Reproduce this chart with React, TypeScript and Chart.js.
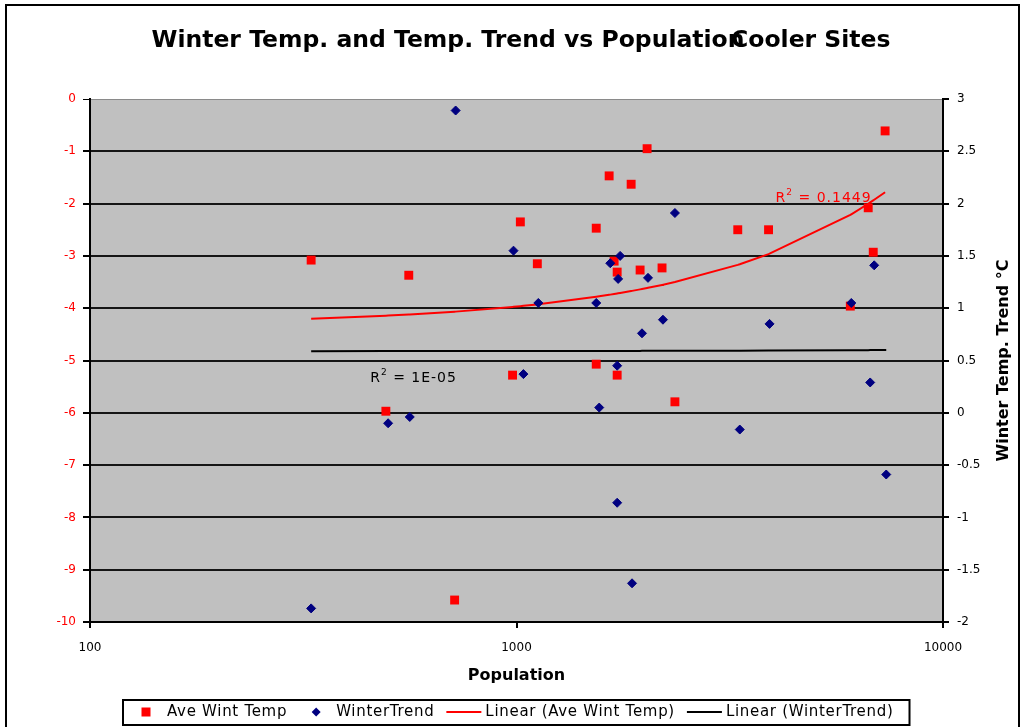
import React, { useEffect, useRef } from 'react';
import { Chart, registerables } from 'chart.js';

Chart.register(...registerables);

// ---- Data ----
const tempPopulation = [330, 559, 494, 716, 979, 1021, 1119, 1538, 1538, 1649, 1694, 1722, 1722, 1857, 2024, 1949, 2194, 2352, 3302, 3899, 6063, 6678, 6862, 7316];
const aveWintTemp = [-3.08, -3.37, -5.97, -9.58, -5.28, -2.35, -3.15, -2.47, -5.07, -1.47, -3.1, -3.31, -5.28, -1.63, -0.95, -3.27, -3.23, -5.79, -2.5, -2.5, -3.96, -2.08, -2.93, -0.61];

const trendPopulation = [720, 984, 1125, 1538, 1659, 1750, 1731, 2034, 2352, 2205, 1969, 3920, 6095, 6897, 1038, 500, 562, 1563, 1722, 330, 1722, 3338, 6750, 7361, 1866];
const winterTrend = [2.89, 1.55, 1.05, 1.05, 1.43, 1.5, 1.28, 1.29, 1.91, 0.89, 0.76, 0.85, 1.05, 1.41, 0.37, -0.1, -0.04, 0.05, 0.45, -1.87, -0.86, -0.16, 0.29, -0.59, -1.63];

const xTicks = [100, 1000, 10000];
const tempAxis = { min: -10, max: 0, step: 1 };
const trendAxis = { min: -2, max: 3, step: 0.5 };

const titleMain = 'Winter Temp. and Temp. Trend vs Population';
const titleTail = 'Cooler Sites';
const xTitle = 'Population';
const y2Title = 'Winter Temp. Trend °C';
const seriesNames = ['Ave Wint Temp', 'WinterTrend', 'Linear (Ave Wint Temp)', 'Linear (WinterTrend)'];
const r2Temp = '0.1449';
const r2Trend = '1E-05';

const RED = '#FF0000';
const NAVY = '#000080';
const FONT = '"DejaVu Sans", Verdana, sans-serif';

function linearFit(xs: number[], ys: number[]) {
  const n = xs.length;
  const mx = xs.reduce((a, b) => a + b, 0) / n;
  const my = ys.reduce((a, b) => a + b, 0) / n;
  let sxy = 0;
  let sxx = 0;
  for (let i = 0; i < n; i++) {
    sxy += (xs[i] - mx) * (ys[i] - my);
    sxx += (xs[i] - mx) * (xs[i] - mx);
  }
  const slope = sxy / sxx;
  return { slope, intercept: my - slope * mx };
}

function trendPoints(xs: number[], ys: number[], sampleXs: number[]) {
  const { slope, intercept } = linearFit(xs, ys);
  const lo = Math.min(...xs);
  const hi = Math.max(...xs);
  return sampleXs.filter((x) => x >= lo && x <= hi).map((x) => ({ x, y: intercept + slope * x }));
}

function setSpacing(ctx: any, px: number) {
  try {
    ctx.letterSpacing = px + 'px';
  } catch (e) {
    /* ignore */
  }
}

function drawR2(ctx: CanvasRenderingContext2D, x: number, y: number, value: string, color: string) {
  ctx.save();
  ctx.fillStyle = color;
  ctx.textAlign = 'left';
  ctx.textBaseline = 'middle';
  setSpacing(ctx, 1);
  ctx.font = `14px ${FONT}`;
  ctx.fillText('R', x, y);
  let cx = x + ctx.measureText('R').width;
  ctx.font = `9px ${FONT}`;
  ctx.fillText('2', cx, y - 6);
  cx += ctx.measureText('2').width;
  ctx.font = `14px ${FONT}`;
  ctx.fillText(' = ' + value, cx, y);
  ctx.restore();
}

const decorPlugin = {
  id: 'decor',
  beforeDraw(chart: any) {
    const { ctx, chartArea: a } = chart;
    ctx.save();
    ctx.fillStyle = '#FFFFFF';
    ctx.fillRect(0, 0, chart.width, chart.height);
    ctx.fillStyle = '#C0C0C0';
    ctx.fillRect(a.left, a.top, a.right - a.left, a.bottom - a.top);
    ctx.restore();
  },
  afterDraw(chart: any) {
    const { ctx, chartArea: a, scales } = chart;
    ctx.save();

    // outer frame
    ctx.strokeStyle = '#000';
    ctx.lineWidth = 2;
    ctx.strokeRect(6, 5, 1013, 760);

    // title (two overlapping pieces, as in the reference)
    ctx.fillStyle = '#000';
    ctx.font = `bold 23.5px ${FONT}`;
    ctx.textBaseline = 'alphabetic';
    ctx.textAlign = 'left';
    const w1 = ctx.measureText(titleMain).width;
    const w2 = ctx.measureText(titleTail).width;
    const overlap = ctx.measureText('n').width * 0.8;
    const total = w1 + w2 - overlap;
    const tx = 521 - total / 2;
    ctx.fillText(titleMain, tx, 47);
    ctx.fillText(titleTail, tx + w1 - overlap, 47);

    // right axis title
    ctx.save();
    ctx.translate(1004, (a.top + a.bottom) / 2);
    ctx.rotate(-Math.PI / 2);
    ctx.font = `bold 16px ${FONT}`;
    ctx.textAlign = 'center';
    ctx.textBaseline = 'middle';
    ctx.fillText(y2Title, 0, 0);
    ctx.restore();

    // R² labels
    drawR2(ctx, scales.x.getPixelForValue(4050), scales.y.getPixelForValue(-1.9), r2Temp, RED);
    drawR2(ctx, scales.x.getPixelForValue(454), scales.y2.getPixelForValue(0.33), r2Trend, '#000');

    // legend
    const ly = 712;
    ctx.save();
    ctx.font = `15px ${FONT}`;
    setSpacing(ctx, 0.7);
    ctx.textBaseline = 'middle';
    ctx.textAlign = 'left';
    let cursor = 0;
    // item 1: red square
    const c1 = 146;
    ctx.fillStyle = RED;
    ctx.fillRect(c1 - 4.5, ly - 4.5, 9, 9);
    ctx.fillStyle = '#000';
    ctx.fillText(seriesNames[0], c1 + 21, ly);
    cursor = c1 + 21 + ctx.measureText(seriesNames[0]).width;
    // item 2: navy diamond
    const c2 = cursor + 29;
    ctx.fillStyle = NAVY;
    ctx.beginPath();
    ctx.moveTo(c2, ly - 4.5);
    ctx.lineTo(c2 + 4.5, ly);
    ctx.lineTo(c2, ly + 4.5);
    ctx.lineTo(c2 - 4.5, ly);
    ctx.closePath();
    ctx.fill();
    ctx.fillStyle = '#000';
    ctx.fillText(seriesNames[1], c2 + 20, ly);
    cursor = c2 + 20 + ctx.measureText(seriesNames[1]).width;
    // items 3 and 4: lines
    const lineItems = [
      { name: seriesNames[2], color: RED },
      { name: seriesNames[3], color: '#000' },
    ];
    for (const it of lineItems) {
      const ls = cursor + 12;
      ctx.strokeStyle = it.color;
      ctx.lineWidth = 2;
      ctx.beginPath();
      ctx.moveTo(ls, ly);
      ctx.lineTo(ls + 35, ly);
      ctx.stroke();
      ctx.fillStyle = '#000';
      ctx.fillText(it.name, ls + 39, ly);
      cursor = ls + 39 + ctx.measureText(it.name).width;
    }
    ctx.strokeStyle = '#000';
    ctx.lineWidth = 2;
    ctx.strokeRect(123, 700, cursor + 16 - 123, 25);
    ctx.restore();

    ctx.restore();
  },
};

export default function App() {
  const canvasRef = useRef<HTMLCanvasElement>(null);

  useEffect(() => {
    const canvas = canvasRef.current;
    if (!canvas) return;

    const sampleXs = Array.from(new Set([...tempPopulation, ...trendPopulation])).sort((p, q) => p - q);
    const redTrend = trendPoints(tempPopulation, aveWintTemp, sampleXs);
    const blackTrend = trendPoints(trendPopulation, winterTrend, sampleXs);

    const tickFont = { family: FONT, size: 12 };

    const chart = new Chart(canvas, {
      type: 'scatter',
      data: {
        datasets: [
          {
            label: seriesNames[0],
            data: tempPopulation.map((x, i) => ({ x, y: aveWintTemp[i] })),
            yAxisID: 'y',
            pointStyle: 'rect',
            pointRadius: 6.3,
            backgroundColor: RED,
            borderColor: RED,
            borderWidth: 0,
            order: 2,
          },
          {
            label: seriesNames[1],
            data: trendPopulation.map((x, i) => ({ x, y: winterTrend[i] })),
            yAxisID: 'y2',
            pointStyle: 'rectRot',
            pointRadius: 4.5,
            backgroundColor: NAVY,
            borderColor: NAVY,
            borderWidth: 1,
            order: 1,
          },
          {
            label: seriesNames[2],
            data: redTrend,
            yAxisID: 'y',
            showLine: true,
            pointRadius: 0,
            borderColor: RED,
            borderWidth: 2,
            order: 4,
          },
          {
            label: seriesNames[3],
            data: blackTrend,
            yAxisID: 'y2',
            showLine: true,
            pointRadius: 0,
            borderColor: '#000',
            borderWidth: 2,
            order: 3,
          },
        ],
      } as any,
      options: {
        animation: false,
        responsive: false,
        events: [],
        layout: { padding: { top: 99, left: 0, right: 0, bottom: 0 } },
        plugins: {
          legend: { display: false },
          title: { display: false },
          tooltip: { enabled: false },
        },
        scales: {
          x: {
            type: 'logarithmic',
            position: 'bottom',
            min: 100,
            max: 10000,
            afterBuildTicks: (s: any) => {
              s.ticks = xTicks.map((v) => ({ value: v }));
            },
            afterFit: (s: any) => {
              s.height = 105;
            },
            ticks: {
              color: '#000',
              font: tickFont,
              padding: 13,
              autoSkip: false,
              maxRotation: 0,
              callback: (v: any) => String(v),
            },
            grid: { drawOnChartArea: false, drawTicks: true, tickLength: 6, color: '#000', lineWidth: 2 },
            border: { display: true, color: '#000', width: 2 },
            title: {
              display: true,
              text: xTitle,
              color: '#000',
              font: { family: FONT, size: 16, weight: 'bold' },
              padding: { top: 0, bottom: 42 },
            },
          },
          y: {
            position: 'left',
            min: tempAxis.min,
            max: tempAxis.max,
            afterFit: (s: any) => {
              s.width = 90;
            },
            ticks: { stepSize: tempAxis.step, color: RED, font: tickFont, padding: 7, callback: (v: any) => String(v) },
            grid: {
              color: (c: any) => (c.tick && c.tick.value === 0 ? '#8A8A8A' : '#151515'),
              lineWidth: (c: any) => (c.tick && c.tick.value === 0 ? 1 : 2),
              tickColor: '#000',
              tickLength: 7,
            },
            border: { display: true, color: '#000', width: 2 },
          },
          y2: {
            position: 'right',
            min: trendAxis.min,
            max: trendAxis.max,
            afterFit: (s: any) => {
              s.width = 78;
            },
            ticks: { stepSize: trendAxis.step, color: '#000', font: tickFont, padding: 8, callback: (v: any) => String(v) },
            grid: { drawOnChartArea: false, tickColor: '#000', tickLength: 6, lineWidth: 2 },
            border: { display: true, color: '#000', width: 2 },
          },
        },
      } as any,
      plugins: [decorPlugin],
    });

    return () => chart.destroy();
  }, []);

  return (
    <div style={{ position: 'fixed', left: 0, top: 0, width: 1021, height: 727, background: '#fff' }}>
      <canvas ref={canvasRef} width={1021} height={727} style={{ display: 'block' }} />
    </div>
  );
}
